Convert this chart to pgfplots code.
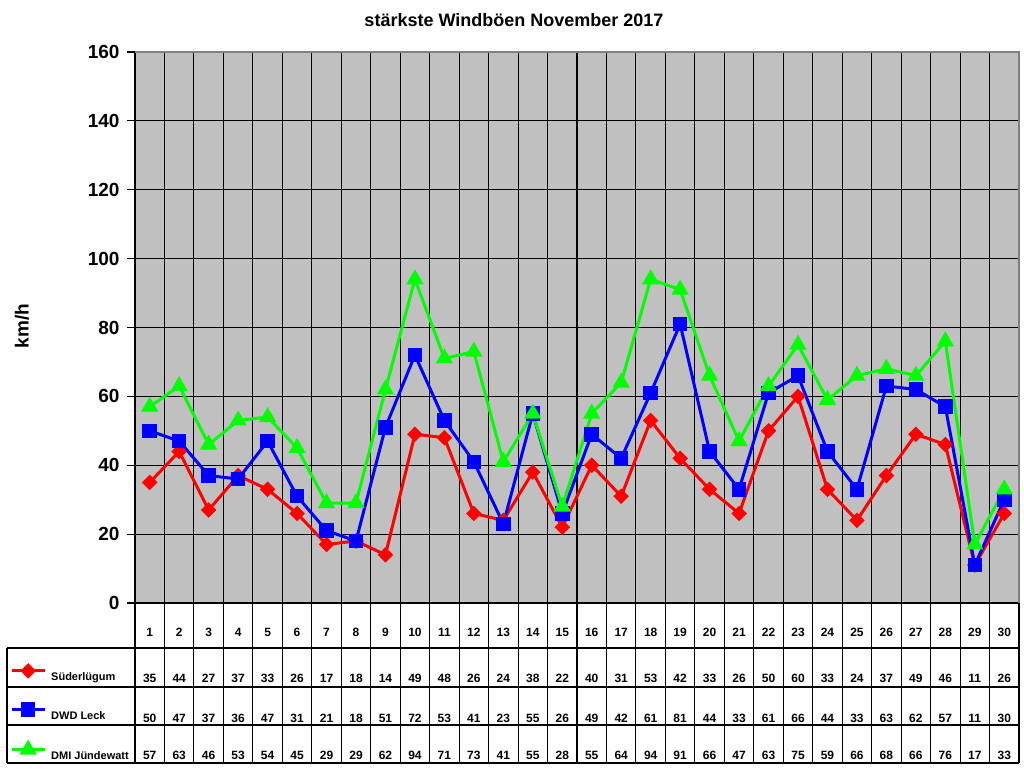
\documentclass[border=0pt]{standalone}
\usepackage{fontspec}
\setmainfont{Liberation Sans}
\usepackage{pgfplots}
\usepackage{pgfplotstable}
\pgfplotsset{compat=1.18}

\definecolor{plotbg}{HTML}{C0C0C0}
\definecolor{framegray}{HTML}{808080}

\pgfplotstableread{
day sud dwd dmi
1  35 50 57
2  44 47 63
3  27 37 46
4  37 36 53
5  33 47 54
6  26 31 45
7  17 21 29
8  18 18 29
9  14 51 62
10 49 72 94
11 48 53 71
12 26 41 73
13 24 23 41
14 38 55 55
15 22 26 28
16 40 49 55
17 31 42 64
18 53 61 94
19 42 81 91
20 33 44 66
21 26 33 47
22 50 61 63
23 60 66 75
24 33 44 59
25 24 33 66
26 37 63 68
27 49 62 66
28 46 57 76
29 11 11 17
30 26 30 33
}\windtab

\newcommand{\cellfont}{\fontsize{12}{12}\selectfont\bfseries}
\newcommand{\legfont}{\fontsize{11}{11}\selectfont\bfseries}

\begin{document}
\begin{tikzpicture}[x=1pt,y=1pt]
\useasboundingbox (0pt,0pt) rectangle (1024pt,768pt);
\begin{axis}[
    at={(135pt,165pt)}, anchor=south west,
    width=884pt, height=551pt, scale only axis,
    xmin=0.5, xmax=30.5, ymin=0, ymax=160,
    clip=false,
    axis background/.style={fill=plotbg},
    axis lines*=left,
    axis line style={-, black, line width=1.2pt},
    xtick={1.5,2.5,...,29.5}, xticklabels={},
    xtick style={draw=none},
    ytick={0,20,...,160},
    ytick style={black, line width=1.2pt},
    major tick length=8pt, tick align=outside,
    xmajorgrids, ymajorgrids,
    grid style={black, line width=1.1pt},
    /pgf/number format/assume math mode=true,
    yticklabel style={font=\fontsize{19}{19}\selectfont\bfseries, xshift=-4pt},
    ylabel={km/h},
    ylabel style={at={(rel axis cs:-0.1278,0.5027)}, anchor=center,
        font=\fontsize{19}{19}\selectfont\bfseries},
    title={stärkste Windböen November 2017},
    title style={at={(rel axis cs:0.4287,1.0472)}, anchor=center,
        font=\fontsize{18}{18}\selectfont\bfseries},
    legend image code/.code={
        \draw[mark repeat=2,mark phase=2,#1]
            plot coordinates {(0pt,7pt)(16.5pt,7pt)(33pt,7pt)};},
    legend style={at={(rel axis cs:-0.1414,-0.1125)}, anchor=north west,
        draw=none, fill=none, inner sep=0pt, row sep=20.5pt,
        nodes={inner sep=0pt, text height=8pt, text depth=3pt, font=\legfont},
        /tikz/every odd column/.append style={column sep=5pt}},
    legend cell align=left,
    nodes near coords style={anchor=base, font=\cellfont, text=black},
]
\addplot[red, line width=3pt, mark=square*, mark size=4pt,
    mark options={rotate=45, solid}]
    table[x=day, y=sud] {\windtab};
\addlegendentry{Süderlügum}
\addplot[blue, line width=3pt, mark=square*, mark size=5.75pt,
    mark options={solid}]
    table[x=day, y=dwd] {\windtab};
\addlegendentry{DWD Leck}
\addplot[green, line width=3pt, mark=triangle*, mark size=7pt,
    mark options={solid}]
    table[x=day, y=dmi] {\windtab};
\addlegendentry{DMI Jündewatt}

% values of the table below the axis (placed on their baselines)
\addplot[forget plot, draw=none, mark=none, nodes near coords, point meta=explicit]
    table[x=day, y expr=-9.87, meta=day] {\windtab};
\addplot[forget plot, draw=none, mark=none, nodes near coords, point meta=explicit]
    table[x=day, y expr=-23.23, meta=sud] {\windtab};
\addplot[forget plot, draw=none, mark=none, nodes near coords, point meta=explicit]
    table[x=day, y expr=-34.56, meta=dwd] {\windtab};
\addplot[forget plot, draw=none, mark=none, nodes near coords, point meta=explicit]
    table[x=day, y expr=-45.3, meta=dmi] {\windtab};

\draw[framegray, line width=1.2pt]
    (axis cs:0.5,160) -- (axis cs:30.5,160) -- (axis cs:30.5,0);
\end{axis}

% table grid
\begin{scope}[line width=1.1pt, black]
\foreach \k in {0,...,30} {
    \draw (135pt+\k*29.4667pt,165pt) -- (135pt+\k*29.4667pt,5pt);
}
\draw (7pt,120pt) -- (1019pt,120pt);
\draw (7pt,81pt) -- (1019pt,81pt);
\draw (7pt,43pt) -- (1019pt,43pt);
\draw (7pt,5pt) -- (1019pt,5pt);
\draw (7pt,120pt) -- (7pt,5pt);
\end{scope}
\end{tikzpicture}
\end{document}
